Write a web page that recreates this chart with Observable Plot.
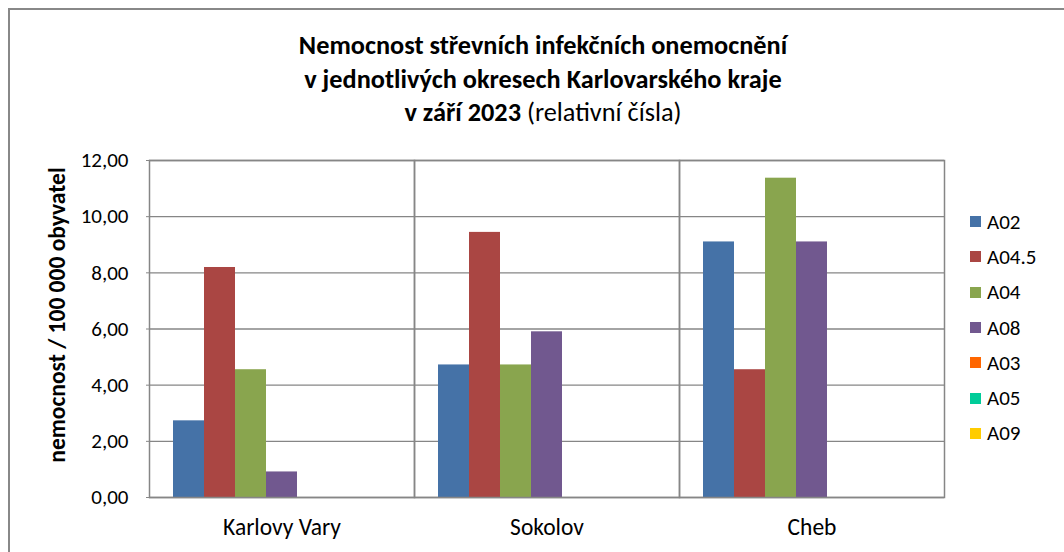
<!DOCTYPE html>
<html>
<head>
<meta charset="utf-8">
<script src="https://cdn.jsdelivr.net/npm/d3@7"></script>
<script src="https://cdn.jsdelivr.net/npm/@observablehq/plot@0.6"></script>
<style>
  html, body { margin: 0; padding: 0; background: #fff; }
  body { width: 1064px; height: 552px; overflow: hidden; position: relative; font-family: Carlito, Calibri, Lato, sans-serif; color: #000; }
  #border { position: absolute; left: 8px; top: 8px; width: 1200px; height: 700px; border: 2px solid #888; box-sizing: border-box; }
  #title { position: absolute; left: 0; top: 29px; width: 1086px; text-align: center; font-size: 26.3px; line-height: 33.5px; }
  #title b { font-weight: 700; }
  #ylabel { position: absolute; left: 57px; top: 315px; transform: translate(-50%, -50%) rotate(-90deg); white-space: nowrap; font-weight: 700; font-size: 23.5px; }
  #chart { position: absolute; left: 0; top: 0; }
  #legend { position: absolute; left: 970px; top: 204px; font-size: 21px; }
  .row { height: 35.3px; display: flex; align-items: center; }
  .sw { width: 11px; height: 11px; margin-right: 6px; }
</style>
</head>
<body>
<div id="border"></div>
<div id="chart"></div>
<div id="title"><b>Nemocnost střevních infekčních onemocnění</b><br><b>v jednotlivých okresech Karlovarského kraje</b><br><b>v září 2023</b> (relativní čísla)</div>
<div id="ylabel">nemocnost / 100 000 obyvatel</div>
<div id="legend"></div>
<script>
const districts = ["Karlovy Vary", "Sokolov", "Cheb"];
const series = ["A02", "A04.5", "A04", "A08", "A03", "A05", "A09"];
const seriesColors = ["#4572A7", "#AA4643", "#89A54E", "#71588F", "#FF6600", "#00CC99", "#FFCC00"];
const valuesKarlovyVary = [2.73, 8.19, 4.55, 0.91, 0, 0, 0];
const valuesSokolov = [4.72, 9.44, 4.72, 5.90, 0, 0, 0];
const valuesCheb = [9.10, 4.55, 11.37, 9.10, 0, 0, 0];
const yTicks = [0, 2, 4, 6, 8, 10, 12];

const valuesByDistrict = [valuesKarlovyVary, valuesSokolov, valuesCheb];
const data = districts.flatMap((d, i) => series.map((s, j) => ({district: d, series: s, value: valuesByDistrict[i][j]})));

const chart = Plot.plot({
  width: 1064,
  height: 552,
  marginLeft: 148,
  marginRight: 119,
  marginTop: 160,
  marginBottom: 55,
  style: {fontFamily: "Carlito, Calibri, Lato, sans-serif", color: "#000", background: "transparent"},
  fx: {domain: districts, padding: 0, label: null},
  x: {domain: series, paddingInner: 0, paddingOuter: 0.71, axis: null},
  y: {domain: [0, 12], ticks: yTicks, label: null},
  color: {domain: series, range: seriesColors},
  marks: [
    Plot.gridY(yTicks, {stroke: "#868686", strokeOpacity: 1, strokeWidth: 1.3}),
    Plot.barY(data.filter(d => d.value > 0), {fx: "district", x: "series", y: "value", fill: "series"}),
    Plot.frame({stroke: "#868686", strokeWidth: 1.5}),
    Plot.axisY(yTicks, {tickSize: 3, tickPadding: 18, fontSize: 21, stroke: "#868686", fill: "#000",
      tickFormat: d => d.toFixed(2).replace(".", ","), label: null}),
    Plot.axisFx({anchor: "bottom", tickSize: 0, tickPadding: 21, fontSize: 23.5, label: null})
  ]
});
document.getElementById("chart").appendChild(chart);

const legend = document.getElementById("legend");
series.forEach((s, i) => {
  const row = document.createElement("div");
  row.className = "row";
  row.innerHTML = `<div class="sw" style="background:${seriesColors[i]}"></div><span>${s}</span>`;
  legend.appendChild(row);
});
</script>
</body>
</html>
